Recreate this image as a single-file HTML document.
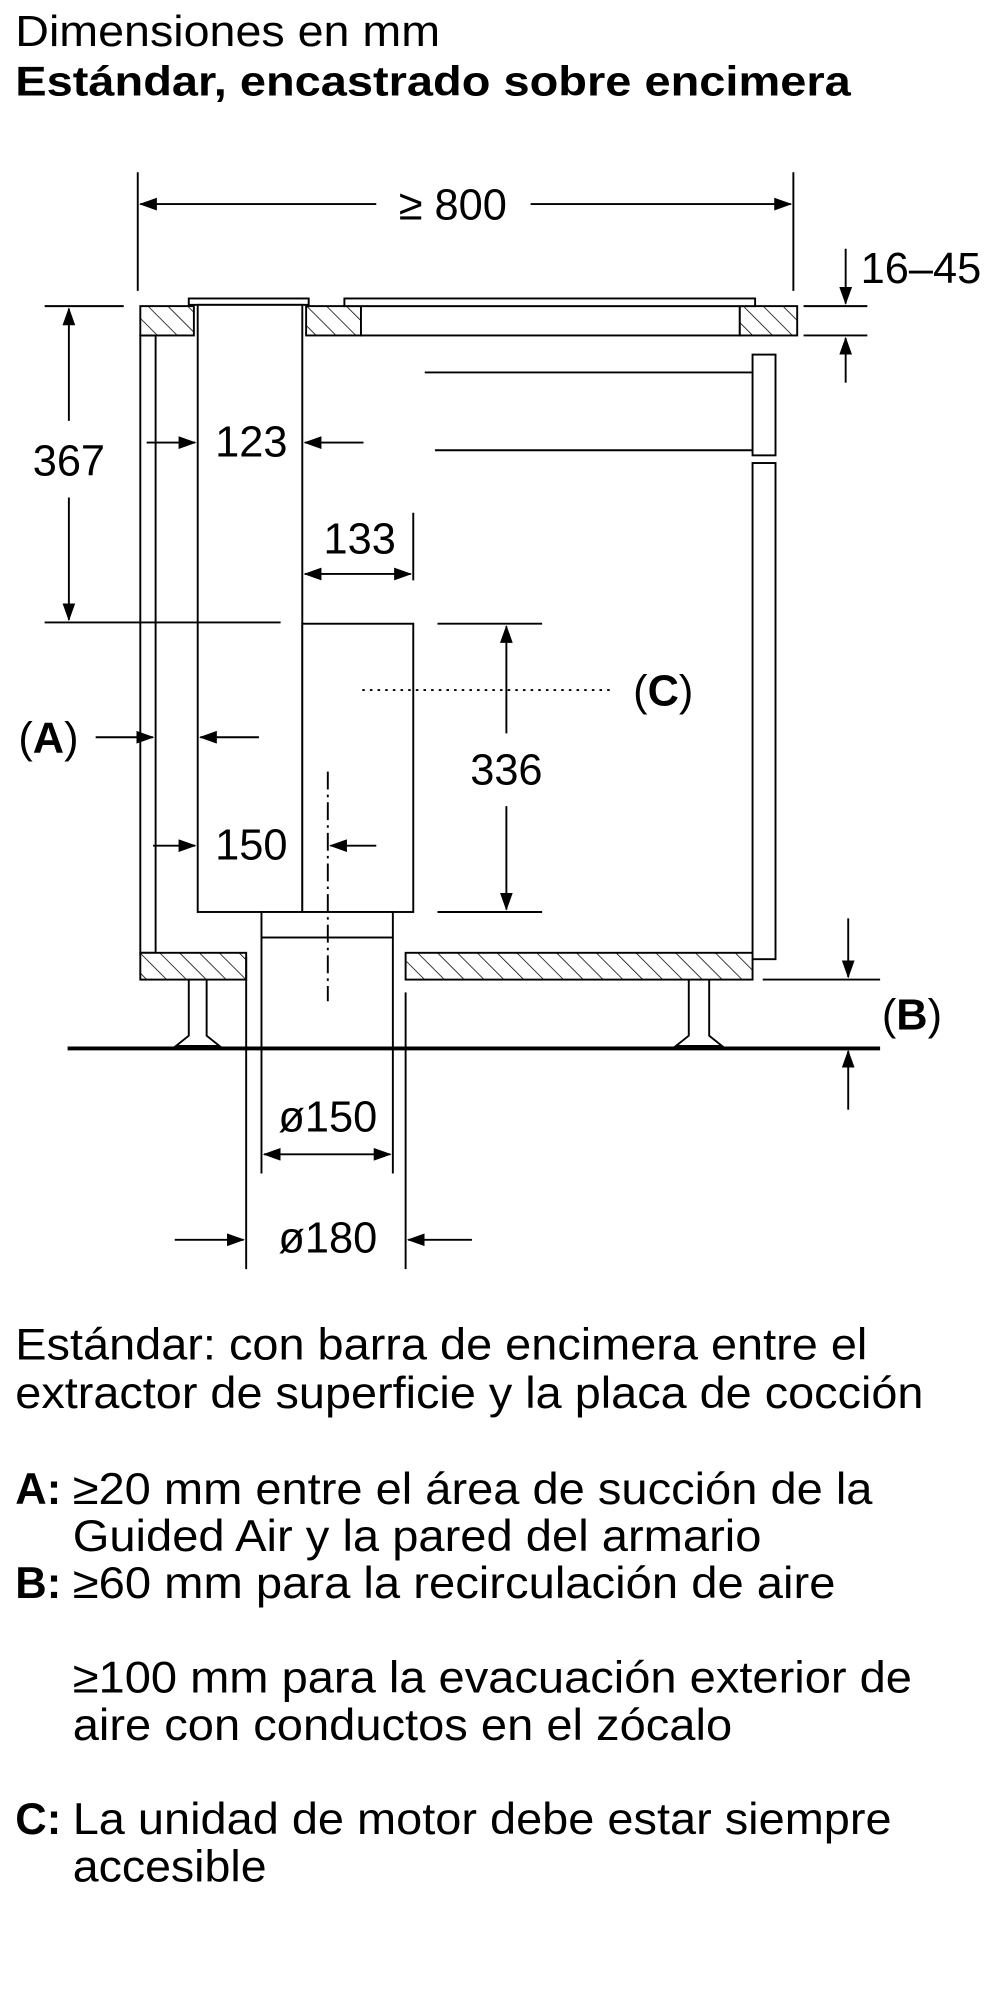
<!DOCTYPE html>
<html><head><meta charset="utf-8"><style>
html,body{margin:0;padding:0;background:#fff;width:1000px;height:2000px;overflow:hidden}
svg{display:block}
text{font-family:"Liberation Sans",sans-serif;fill:#000}
</style></head><body>
<svg width="1000" height="2000" viewBox="0 0 784 1568" xmlns="http://www.w3.org/2000/svg">
<defs>
<pattern id="h" patternUnits="userSpaceOnUse" width="11" height="11" patternTransform="rotate(-45)">
<rect width="11" height="11" fill="#fff"/><line x1="0" y1="0" x2="0" y2="11" stroke="#000" stroke-width="1.2"/>
</pattern>
<marker id="a" markerWidth="14" markerHeight="10" refX="13" refY="5" orient="auto-start-reverse" markerUnits="userSpaceOnUse">
<path d="M0,0 L14,5 L0,10 Z" fill="#000"/></marker>
</defs>
<text x="12" y="36" font-size="34" textLength="333" lengthAdjust="spacingAndGlyphs">Dimensiones en mm</text>
<text x="12" y="75" font-size="33" font-weight="bold" textLength="655" lengthAdjust="spacingAndGlyphs">Estándar, encastrado sobre encimera</text>

<g stroke="#000" stroke-width="1.5" fill="none">
<line x1="108" y1="135" x2="108" y2="228"/><line x1="622" y1="135" x2="622" y2="228"/>
<line x1="110" y1="160" x2="295" y2="160" marker-start="url(#a)"/>
<line x1="416" y1="160" x2="620" y2="160" marker-end="url(#a)"/>
<rect x="110" y="240" width="42" height="23" fill="url(#h)"/>
<rect x="240" y="240" width="43" height="23" fill="url(#h)"/>
<rect x="283" y="240" width="297" height="23" fill="#fff"/>
<rect x="580" y="240" width="45" height="23" fill="url(#h)"/>
<rect x="270" y="234" width="322" height="6" fill="#fff"/>
<rect x="148" y="234" width="94" height="5" fill="#fff"/>
<rect x="155" y="239" width="82" height="476" fill="#fff"/>
<rect x="110" y="263" width="12" height="484"/>
<line x1="333" y1="292" x2="590" y2="292"/><line x1="341" y1="353" x2="590" y2="353"/>
<rect x="590" y="278" width="18" height="79"/>
<rect x="590" y="363" width="18" height="389"/>
<rect x="237" y="489" width="87" height="226" fill="#fff"/>
<rect x="205" y="715" width="103" height="20" fill="#fff"/>
<rect x="110" y="747" width="83" height="21" fill="url(#h)"/>
<rect x="318" y="747" width="272" height="21" fill="url(#h)"/>
<path d="M148,768 V812 L138,820 H172 L162,812 V768"/>
<path d="M540,768 V812 L530,820 H566 L556,812 V768"/>
<line x1="53" y1="822" x2="690" y2="822" stroke-width="3"/>
<line x1="35" y1="240" x2="97" y2="240"/><line x1="35" y1="488" x2="220" y2="488"/>
<line x1="54" y1="330" x2="54" y2="242" marker-end="url(#a)"/>
<line x1="54" y1="390" x2="54" y2="486" marker-end="url(#a)"/>
<line x1="115" y1="347" x2="153" y2="347" marker-end="url(#a)"/>
<line x1="285" y1="347" x2="239" y2="347" marker-end="url(#a)"/>
<line x1="324" y1="402" x2="324" y2="455"/>
<line x1="239" y1="450" x2="322" y2="450" marker-start="url(#a)" marker-end="url(#a)"/>
<line x1="343" y1="489" x2="425" y2="489"/><line x1="343" y1="715" x2="425" y2="715"/>
<line x1="397" y1="575" x2="397" y2="491" marker-end="url(#a)"/>
<line x1="397" y1="632" x2="397" y2="713" marker-end="url(#a)"/>
<line x1="284" y1="541" x2="480" y2="541" stroke-dasharray="2,4"/>
<line x1="75" y1="578" x2="120" y2="578" marker-end="url(#a)"/>
<line x1="203" y1="578" x2="157" y2="578" marker-end="url(#a)"/>
<line x1="120" y1="663" x2="153" y2="663" marker-end="url(#a)"/>
<line x1="295" y1="663" x2="259" y2="663" marker-end="url(#a)"/>
<line x1="257" y1="605" x2="257" y2="785" stroke-dasharray="14,4,2,4"/>
<line x1="205" y1="735" x2="205" y2="920"/><line x1="308" y1="735" x2="308" y2="920"/>
<line x1="207" y1="905" x2="306" y2="905" marker-start="url(#a)" marker-end="url(#a)"/>
<line x1="193" y1="750" x2="193" y2="995"/><line x1="318" y1="778" x2="318" y2="995"/>
<line x1="137" y1="972" x2="191" y2="972" marker-end="url(#a)"/>
<line x1="370" y1="972" x2="320" y2="972" marker-end="url(#a)"/>
<line x1="630" y1="240" x2="680" y2="240"/><line x1="630" y1="263" x2="680" y2="263"/>
<line x1="663" y1="195" x2="663" y2="238" marker-end="url(#a)"/>
<line x1="663" y1="300" x2="663" y2="265" marker-end="url(#a)"/>
<line x1="598" y1="768" x2="690" y2="768"/>
<line x1="665" y1="720" x2="665" y2="766" marker-end="url(#a)"/>
<line x1="665" y1="870" x2="665" y2="824" marker-end="url(#a)"/>
</g>

<g font-size="34" text-anchor="middle">
<text x="355" y="172">≥ 800</text>
<text x="722" y="222">16–45</text>
<text x="54" y="373">367</text>
<text x="197" y="358">123</text>
<text x="282" y="434">133</text>
<text x="397" y="615">336</text>
<text x="197" y="674">150</text>
<text x="257" y="887">ø150</text>
<text x="257" y="982">ø180</text>
<text x="520" y="553">(<tspan font-weight="bold">C</tspan>)</text>
<text x="38" y="590">(<tspan font-weight="bold">A</tspan>)</text>
<text x="715" y="807">(<tspan font-weight="bold">B</tspan>)</text>
</g>

<g font-size="35">
<text x="12" y="1066" textLength="668" lengthAdjust="spacingAndGlyphs">Estándar: con barra de encimera entre el</text>
<text x="12" y="1104" textLength="712" lengthAdjust="spacingAndGlyphs">extractor de superficie y la placa de cocción</text>
<text x="12" y="1179" font-weight="bold" textLength="36" lengthAdjust="spacingAndGlyphs">A:</text>
<text x="57" y="1179" textLength="627" lengthAdjust="spacingAndGlyphs">≥20 mm entre el área de succión de la</text>
<text x="57" y="1216" textLength="540" lengthAdjust="spacingAndGlyphs">Guided Air y la pared del armario</text>
<text x="12" y="1253" font-weight="bold" textLength="36" lengthAdjust="spacingAndGlyphs">B:</text>
<text x="57" y="1253" textLength="598" lengthAdjust="spacingAndGlyphs">≥60 mm para la recirculación de aire</text>
<text x="57" y="1327" textLength="658" lengthAdjust="spacingAndGlyphs">≥100 mm para la evacuación exterior de</text>
<text x="57" y="1364" textLength="517" lengthAdjust="spacingAndGlyphs">aire con conductos en el zócalo</text>
<text x="12" y="1438" font-weight="bold" textLength="36" lengthAdjust="spacingAndGlyphs">C:</text>
<text x="57" y="1438" textLength="642" lengthAdjust="spacingAndGlyphs">La unidad de motor debe estar siempre</text>
<text x="57" y="1475" textLength="152" lengthAdjust="spacingAndGlyphs">accesible</text>
</g>
</svg>
</body></html>
